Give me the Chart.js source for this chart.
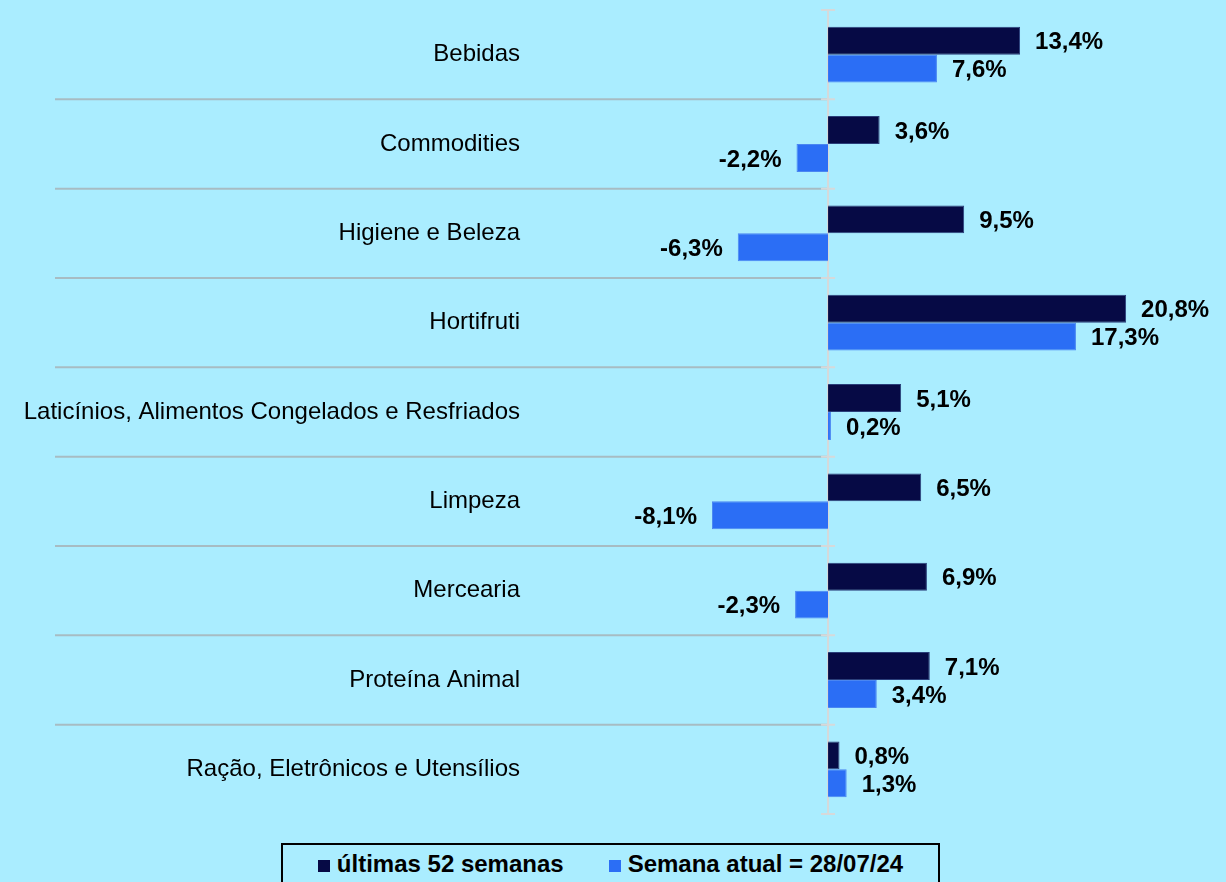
<!DOCTYPE html>
<html>
<head>
<meta charset="utf-8">
<script src="https://cdn.jsdelivr.net/npm/chart.js@4.4.1/dist/chart.umd.min.js"></script>
<style>
  html, body { margin: 0; padding: 0; background: #aaedff; }
  .wrap { position: relative; width: 1226px; height: 882px; overflow: hidden; }
  #vendasChart { position: absolute; left: 0; top: 0; }
  .legend-box {
    position: absolute; left: 281px; top: 843px; width: 655px; height: 60px;
    border: 2px solid #000; box-sizing: content-box; background: #aaedff;
    display: flex; justify-content: center; align-items: flex-start;
    padding-top: 7px; font-family: "Liberation Sans", Arial, sans-serif;
    font-weight: bold; font-size: 24px; line-height: 24px; color: #000;
  }
  .legend-item { display: inline-flex; align-items: baseline; white-space: nowrap; }
  .legend-item + .legend-item { margin-left: 45px; }
  .legend-item .sw { display: inline-block; width: 12px; height: 12px; margin-right: 7px; }
</style>
</head>
<body>
<div class="wrap">
  <canvas id="vendasChart" width="1226" height="882"></canvas>
  <div class="legend-box" id="legend"></div>
</div>
<script>
const categories = [
  'Bebidas',
  'Commodities',
  'Higiene e Beleza',
  'Hortifruti',
  'Laticínios, Alimentos Congelados e Resfriados',
  'Limpeza',
  'Mercearia',
  'Proteína Animal',
  'Ração, Eletrônicos e Utensílios'
];
const ultimas52Semanas = [13.4, 3.6, 9.5, 20.8, 5.1, 6.5, 6.9, 7.1, 0.8];
const semanaAtual = [7.6, -2.2, -6.3, 17.3, 0.2, -8.1, -2.3, 3.4, 1.3];
const seriesNames = ['últimas 52 semanas', 'Semana atual = 28/07/24'];

const darkBlue = '#060a45';
const lightBlue = '#2b6ef5';

function fmtPct(v) {
  return v.toFixed(1).replace('.', ',') + '%';
}

// separators between categories + the zero line with its small ticks
const separatorPlugin = {
  id: 'separators',
  beforeDatasetsDraw(chart) {
    const ctx = chart.ctx;
    const y = chart.scales.y;
    const x0 = chart.scales.x.getPixelForValue(0);
    const area = chart.chartArea;
    const bounds = [area.top];
    for (let i = 1; i < categories.length; i++) {
      bounds.push((y.getPixelForTick(i - 1) + y.getPixelForTick(i)) / 2);
    }
    bounds.push(area.bottom);

    ctx.save();
    ctx.lineWidth = 2;
    ctx.strokeStyle = '#a7bcc3';
    for (let i = 1; i < bounds.length - 1; i++) {
      ctx.beginPath();
      ctx.moveTo(55, bounds[i]);
      ctx.lineTo(x0, bounds[i]);
      ctx.stroke();
    }
    ctx.strokeStyle = '#d6d9da';
    ctx.beginPath();
    ctx.moveTo(x0, area.top);
    ctx.lineTo(x0, area.bottom);
    bounds.forEach(b => {
      ctx.moveTo(x0 - 7, b);
      ctx.lineTo(x0 + 7, b);
    });
    ctx.stroke();
    ctx.restore();
  }
};

// value labels next to each bar
const valueLabelPlugin = {
  id: 'valueLabels',
  afterDatasetsDraw(chart) {
    const ctx = chart.ctx;
    ctx.save();
    ctx.font = 'bold 24px "Liberation Sans", Arial, sans-serif';
    ctx.fillStyle = '#000';
    ctx.textBaseline = 'middle';
    chart.data.datasets.forEach((ds, di) => {
      chart.getDatasetMeta(di).data.forEach((bar, i) => {
        const v = ds.data[i];
        if (v >= 0) {
          ctx.textAlign = 'left';
          ctx.fillText(fmtPct(v), bar.x + 15, bar.y + 2);
        } else {
          ctx.textAlign = 'right';
          ctx.fillText(fmtPct(v), bar.x - 15, bar.y + 2);
        }
      });
    });
    ctx.restore();
  }
};

const ctx = document.getElementById('vendasChart').getContext('2d');
const vendasChart = new Chart(ctx, {
  type: 'bar',
  data: {
    labels: categories,
    datasets: [
      {
        label: seriesNames[0],
        data: ultimas52Semanas,
        backgroundColor: darkBlue,
        borderColor: '#2a3f7a',
        borderWidth: 1,
        categoryPercentage: 0.625,
        barPercentage: 1
      },
      {
        label: seriesNames[1],
        data: semanaAtual,
        backgroundColor: lightBlue,
        borderColor: '#4a86f2',
        borderWidth: 1,
        categoryPercentage: 0.625,
        barPercentage: 1
      }
    ]
  },
  options: {
    indexAxis: 'y',
    responsive: false,
    animation: false,
    layout: {
      padding: { top: 10, bottom: 68, left: 0, right: 0 }
    },
    plugins: {
      legend: { display: false },
      tooltip: { enabled: false }
    },
    scales: {
      x: {
        display: false,
        min: -20.1,
        max: 27.77
      },
      y: {
        grid: { display: false, drawTicks: false },
        border: { display: false },
        ticks: {
          padding: 20,
          color: '#000',
          font: { family: '"Liberation Sans", Arial, sans-serif', size: 24 }
        },
        afterFit(scale) {
          scale.width = 540;
          scale.paddingTop = 0;
          scale.paddingBottom = 0;
        }
      }
    }
  },
  plugins: [separatorPlugin, valueLabelPlugin]
});

// legend in the box at the bottom
const legendEl = document.getElementById('legend');
vendasChart.data.datasets.forEach(ds => {
  const item = document.createElement('span');
  item.className = 'legend-item';
  const sw = document.createElement('span');
  sw.className = 'sw';
  sw.style.background = ds.backgroundColor;
  item.appendChild(sw);
  item.appendChild(document.createTextNode(ds.label));
  legendEl.appendChild(item);
});
</script>
</body>
</html>
